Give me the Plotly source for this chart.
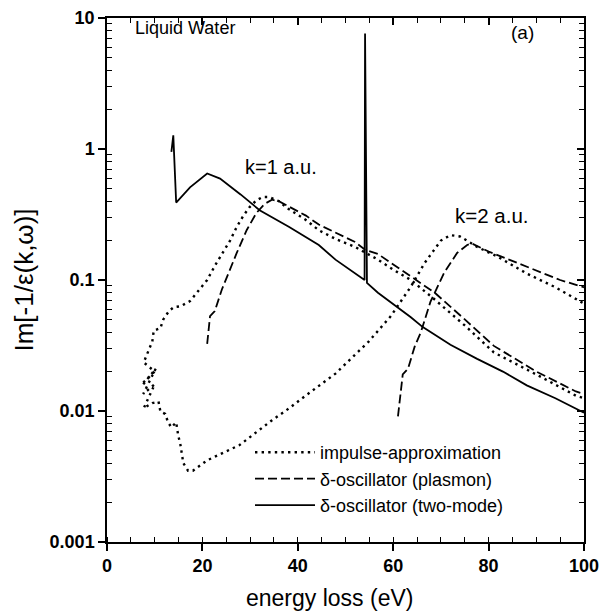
import plotly.graph_objects as go

# ---------------- data ----------------
# impulse approximation, k = 1 a.u.
ia_k1_x = [7.6, 10.0, 7.7, 8.5, 9.5, 9.8, 11.2, 11.8, 13.0, 14.0, 15.4, 17.4, 19.0, 21.0, 22.7,
           24.3, 25.8, 27.2, 28.6, 29.9, 31.3, 32.6, 34.0, 36.0, 38.0, 41.7, 44.4, 48.0, 52.0,
           56.8, 60.0, 63.7, 68.7, 75.0, 81.1, 90.0, 98.3, 100.0]
ia_k1_y = [0.0165, 0.020, 0.0235, 0.028, 0.034, 0.041, 0.043, 0.050, 0.058, 0.062, 0.063, 0.069,
           0.082, 0.100, 0.130, 0.161, 0.200, 0.254, 0.310, 0.360, 0.405, 0.430, 0.430, 0.400,
           0.350, 0.287, 0.240, 0.205, 0.179, 0.143, 0.120, 0.100, 0.071, 0.045, 0.028, 0.019,
           0.0131, 0.0125]
# impulse approximation, k = 2 a.u.
ia_k2_x = [7.6, 10.2, 7.6, 10.0, 7.7, 9.5, 10.8, 11.2, 12.2, 12.8, 13.5, 14.5, 14.9, 15.4, 16.0,
           17.0, 18.0, 21.0, 27.8, 34.6, 38.2, 40.9, 47.9, 54.8, 59.5, 61.6, 63.7, 66.6, 68.5,
           70.0, 72.0, 74.0, 77.6, 82.0, 88.0, 94.0, 100.0]
ia_k2_y = [0.016, 0.021, 0.0135, 0.016, 0.0105, 0.0115, 0.0118, 0.0099, 0.0095, 0.0082, 0.0075,
           0.0082, 0.0066, 0.0055, 0.0040, 0.0035, 0.0035, 0.0042, 0.0055, 0.0085, 0.0105,
           0.0125, 0.0193, 0.0337, 0.053, 0.069, 0.089, 0.135, 0.170, 0.200, 0.220, 0.215,
           0.179, 0.150, 0.112, 0.088, 0.066]
# delta-oscillator (plasmon), k = 1 a.u.
pl_k1_x = [21.0, 21.6, 22.6, 24.1, 27.2, 29.3, 31.3, 33.0, 34.6, 36.0, 41.7, 44.4, 52.0, 54.1,
           56.8, 63.7, 68.7, 75.0, 81.1, 90.0, 98.3, 100.0]
pl_k1_y = [0.0325, 0.053, 0.058, 0.085, 0.161, 0.241, 0.324, 0.380, 0.410, 0.400, 0.310, 0.265,
           0.195, 0.170, 0.158, 0.106, 0.080, 0.050, 0.0314, 0.020, 0.0141, 0.0135]
# delta-oscillator (plasmon), k = 2 a.u.
pl_k2_x = [61.0, 62.0, 63.1, 64.5, 65.8, 67.8, 70.7, 73.4, 75.5, 76.5, 80.0, 88.0, 95.0, 100.0]
pl_k2_y = [0.0091, 0.019, 0.021, 0.031, 0.040, 0.068, 0.114, 0.161, 0.185, 0.190, 0.165, 0.127,
           0.100, 0.088]
# delta-oscillator (two-mode), k = 1 a.u.
tm_x = [13.5, 13.9, 14.5, 17.4, 21.0, 23.7, 28.0, 32.0, 38.2, 41.6, 44.4, 47.9, 54.0, 54.1,
        54.5, 56.8, 63.7, 66.2, 72.0, 77.6, 83.0, 88.0, 94.0, 100.0]
tm_y = [0.95, 1.27, 0.39, 0.51, 0.65, 0.595, 0.45, 0.341, 0.254, 0.215, 0.185, 0.143, 0.100,
        7.6, 0.095, 0.080, 0.052, 0.0437, 0.032, 0.025, 0.020, 0.0157, 0.0125, 0.0097]

series_names = ["impulse-approximation", "δ-oscillator (plasmon)", "δ-oscillator (two-mode)"]

x_tick_vals = [0, 20, 40, 60, 80, 100]
x_tick_text = ["0", "20", "40", "60", "80", "100"]
y_tick_vals = [0.001, 0.01, 0.1, 1, 10]
y_tick_text = ["0.001", "0.01", "0.1", "1", "10"]
y_minor_vals = [m * 10.0 ** e for e in range(-3, 1) for m in range(2, 10)]

FONT = "Liberation Sans, Arial, sans-serif"
DOT = dict(color="black", width=2.4, dash="2.4px,4.2px")
DASH = dict(color="black", width=1.8, dash="9px,4px")
SOLID = dict(color="black", width=1.8)

fig = go.Figure()
fig.add_trace(go.Scatter(x=ia_k1_x, y=ia_k1_y, mode="lines", line=DOT, name=series_names[0],
                         legendgroup="ia"))
fig.add_trace(go.Scatter(x=ia_k2_x, y=ia_k2_y, mode="lines", line=DOT, name=series_names[0],
                         legendgroup="ia", showlegend=False))
fig.add_trace(go.Scatter(x=pl_k1_x, y=pl_k1_y, mode="lines", line=DASH, name=series_names[1],
                         legendgroup="pl"))
fig.add_trace(go.Scatter(x=pl_k2_x, y=pl_k2_y, mode="lines", line=DASH, name=series_names[1],
                         legendgroup="pl", showlegend=False))
fig.add_trace(go.Scatter(x=tm_x, y=tm_y, mode="lines", line=SOLID, name=series_names[2],
                         legendgroup="tm"))

axis_common = dict(showgrid=False, zeroline=False, linecolor="black", linewidth=1.5,
                   tickcolor="black", tickwidth=1.5, automargin=False)

fig.update_layout(
    width=600, height=613,
    margin=dict(l=107, r=16, t=18, b=71),
    paper_bgcolor="white", plot_bgcolor="white",
    font=dict(family=FONT, color="black", size=16),
    xaxis=dict(range=[0, 100], tickvals=x_tick_vals, ticktext=x_tick_text,
               ticks="outside", ticklen=7, mirror=True, ticklabeloverflow="allow",
               minor=dict(dtick=5, ticks="inside", ticklen=5, tickcolor="black", tickwidth=1.2),
               tickfont=dict(family=FONT, size=18, weight="bold"),
               **axis_common),
    yaxis=dict(type="log", range=[-3, 1], tickvals=y_tick_vals, ticktext=y_tick_text,
               ticks="outside", ticklen=7, mirror=True, ticklabeloverflow="allow",
               minor=dict(tickvals=y_minor_vals, ticks="inside", ticklen=5, tickcolor="black",
                          tickwidth=1.2),
               tickfont=dict(family=FONT, size=18, weight="bold"),
               title=dict(text="Im[-1/ε(k,ω)]", font=dict(family=FONT, size=26), standoff=9),
               **axis_common),
    xaxis2=dict(overlaying="x", side="top", range=[0, 100], tickvals=x_tick_vals,
                showticklabels=False, ticks="inside", ticklen=7, showline=False,
                minor=dict(dtick=5, ticks="inside", ticklen=5, tickcolor="black", tickwidth=1.2),
                showgrid=False, zeroline=False, tickcolor="black", tickwidth=1.5,
                automargin=False),
    yaxis2=dict(overlaying="y", side="right", type="log", range=[-3, 1], tickvals=y_tick_vals,
                showticklabels=False, ticks="inside", ticklen=7, showline=False,
                minor=dict(tickvals=y_minor_vals, ticks="inside", ticklen=5, tickcolor="black",
                           tickwidth=1.2),
                showgrid=False, zeroline=False, tickcolor="black", tickwidth=1.5,
                automargin=False),
    legend=dict(x=0.2998, y=0.206, xanchor="left", yanchor="top", bgcolor="rgba(0,0,0,0)",
                font=dict(family=FONT, size=18), itemwidth=60, tracegroupgap=0),
    showlegend=True,
)

# invisible helper trace so the mirrored top/right axes are drawn
fig.add_trace(go.Scatter(x=[50], y=[1], xaxis="x2", yaxis="y2", mode="markers",
                         marker=dict(opacity=0), showlegend=False, hoverinfo="skip"))

annots = [
    dict(text="Liquid Water", x=0.0545, y=0.981, xanchor="left", yanchor="middle", size=18),
    dict(text="(a)", x=0.872, y=0.973, xanchor="center", yanchor="middle", size=19),
    dict(text="k=1 a.u.", x=0.285, y=0.716, xanchor="left", yanchor="middle", size=20),
    dict(text="k=2 a.u.", x=0.725, y=0.624, xanchor="left", yanchor="middle", size=20.5),
    dict(text="energy loss (eV)", x=0.4675, y=-0.107, xanchor="center", yanchor="middle",
         size=23),
]
for a in annots:
    fig.add_annotation(text=a["text"], x=a["x"], y=a["y"], xref="paper", yref="paper",
                       xanchor=a["xanchor"], yanchor=a["yanchor"], showarrow=False,
                       font=dict(family=FONT, size=a["size"], color="black"))

# remove the default 8 px page margin so the figure fills the window exactly
fig.write_html("out.html", config={"displayModeBar": False},
               post_script="document.body.style.margin='0';")
